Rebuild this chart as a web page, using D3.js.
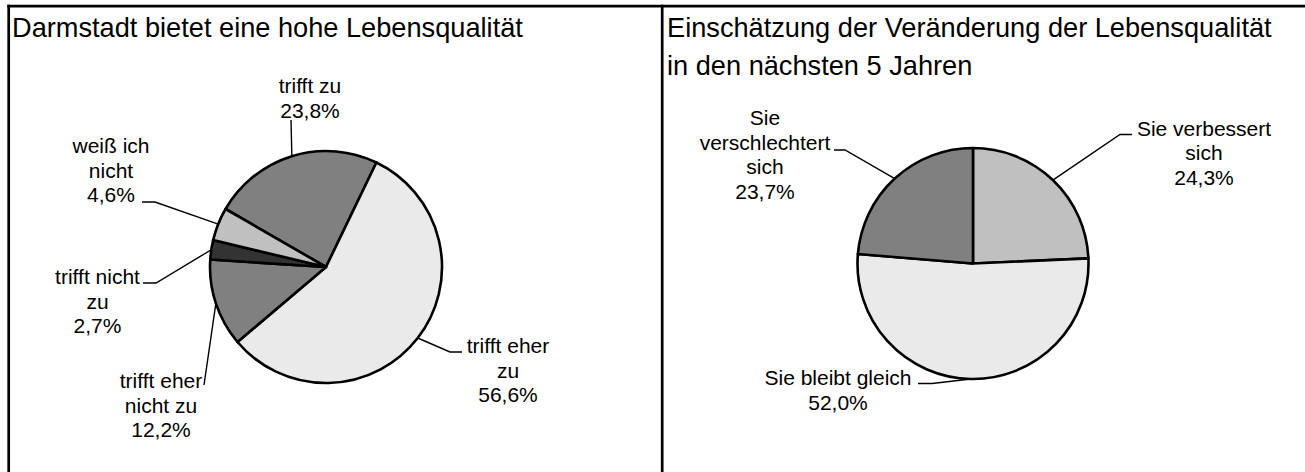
<!DOCTYPE html>
<html>
<head>
<meta charset="utf-8">
<script src="https://cdn.jsdelivr.net/npm/d3@7"></script>
<style>
  html, body { margin: 0; padding: 0; background: #fff; }
  svg { display: block; }
  text { font-family: "Liberation Sans", Arial, sans-serif; fill: #000; }
</style>
</head>
<body>
<svg id="chart" width="1305" height="472"></svg>
<script>
// Survey results: quality of life in Darmstadt
const leftTitle = ["Darmstadt bietet eine hohe Lebensqualität"];
const leftCategories = ["trifft zu", "trifft eher zu", "trifft eher nicht zu", "trifft nicht zu", "weiß ich nicht"];
const leftLabelLines = [["trifft zu"], ["trifft eher", "zu"], ["trifft eher", "nicht zu"], ["trifft nicht", "zu"], ["weiß ich", "nicht"]];
const leftValues = [23.8, 56.6, 12.2, 2.7, 4.6];

const rightTitle = ["Einschätzung der Veränderung der Lebensqualität", "in den nächsten 5 Jahren"];
const rightCategories = ["Sie verbessert sich", "Sie bleibt gleich", "Sie verschlechtert sich"];
const rightLabelLines = [["Sie verbessert", "sich"], ["Sie bleibt gleich"], ["Sie", "verschlechtert", "sich"]];
const rightValues = [24.3, 52.0, 23.7];

// Grey shades per answer
const leftFill = d3.scaleOrdinal().domain(leftCategories)
  .range(["#808080", "#eaeaea", "#808080", "#333333", "#c0c0c0"]);
const rightFill = d3.scaleOrdinal().domain(rightCategories)
  .range(["#c0c0c0", "#eaeaea", "#808080"]);

const pct = d3.formatLocale({ decimal: ",", thousands: ".", grouping: [3], currency: ["", " €"] }).format(".1f");

const svg = d3.select("#chart");
const TITLE_FONT = 27.2;
const FONT = 21;
const LINE = 24.5;

// Outer frame and panel divider
const frame = svg.append("g").attr("stroke", "#000").attr("stroke-width", 2.7);
frame.append("line").attr("x1", 7.3).attr("x2", 1305).attr("y1", 6.2).attr("y2", 6.2);
frame.append("line").attr("x1", 8.7).attr("x2", 8.7).attr("y1", 4.8).attr("y2", 472);
frame.append("line").attr("x1", 662.2).attr("x2", 662.2).attr("y1", 4.8).attr("y2", 472);

function drawPanel(cfg) {
  const g = svg.append("g");

  // Title
  g.append("text")
    .attr("font-size", TITLE_FONT)
    .selectAll("tspan").data(cfg.title).join("tspan")
      .attr("x", cfg.titleX)
      .attr("y", (d, i) => cfg.titleY + i * cfg.titleLine)
      .text(d => d);

  const pie = d3.pie().sort(null).value(d => d.value)
    .startAngle(cfg.startDeg * Math.PI / 180)
    .endAngle(cfg.startDeg * Math.PI / 180 + 2 * Math.PI);
  const data = cfg.categories.map((c, i) => ({ cat: c, value: cfg.values[i], lines: cfg.lines[i] }));
  const arcs = pie(data);
  const arc = d3.arc().innerRadius(0).outerRadius(cfg.r);

  const pg = g.append("g").attr("transform", `translate(${cfg.cx},${cfg.cy})`);
  pg.selectAll("path").data(arcs).join("path")
    .attr("d", arc)
    .attr("fill", d => cfg.fill(d.data.cat))
    .attr("stroke", "#000")
    .attr("stroke-width", 2.6)
    .attr("stroke-linejoin", "round");

  // Labels with leader lines to the middle of each slice's rim
  arcs.forEach((a, i) => {
    const lay = cfg.layout[i];
    const mid = (a.startAngle + a.endAngle) / 2;
    const rim = [cfg.cx + cfg.r * Math.sin(mid), cfg.cy - cfg.r * Math.cos(mid)];
    const pts = lay.leader.concat([rim]);
    g.append("path")
      .attr("d", d3.line()(pts))
      .attr("fill", "none")
      .attr("stroke", "#000")
      .attr("stroke-width", 1.4);

    const lines = a.data.lines.concat([pct(a.data.value) + "%"]);
    g.append("text")
      .attr("font-size", FONT)
      .attr("text-anchor", "middle")
      .selectAll("tspan").data(lines).join("tspan")
        .attr("x", lay.x)
        .attr("y", (d, k) => lay.y + k * LINE)
        .text(d => d);
  });
}

drawPanel({
  title: leftTitle, titleX: 12, titleY: 37, titleLine: 38,
  categories: leftCategories, lines: leftLabelLines, values: leftValues, fill: leftFill,
  cx: 326, cy: 267, r: 116, startDeg: -60,
  layout: [
    { x: 310, y: 93, leader: [[291, 120]] },
    { x: 508, y: 353, leader: [[462, 352], [450, 352]] },
    { x: 161, y: 388, leader: [[204, 385]] },
    { x: 97.5, y: 284, leader: [[143, 283], [156, 283]] },
    { x: 111, y: 153, leader: [[142, 202], [155, 202]] }
  ]
});

drawPanel({
  title: rightTitle, titleX: 667, titleY: 37, titleLine: 38,
  categories: rightCategories, lines: rightLabelLines, values: rightValues, fill: rightFill,
  cx: 973, cy: 263.5, r: 115.5, startDeg: 0,
  layout: [
    { x: 1204, y: 135.5, leader: [[1132, 134.5], [1120, 134.5]] },
    { x: 838, y: 385, leader: [[918, 383.5], [932, 383.5]] },
    { x: 765, y: 125, leader: [[834, 150], [845, 150]] }
  ]
});
</script>
</body>
</html>
